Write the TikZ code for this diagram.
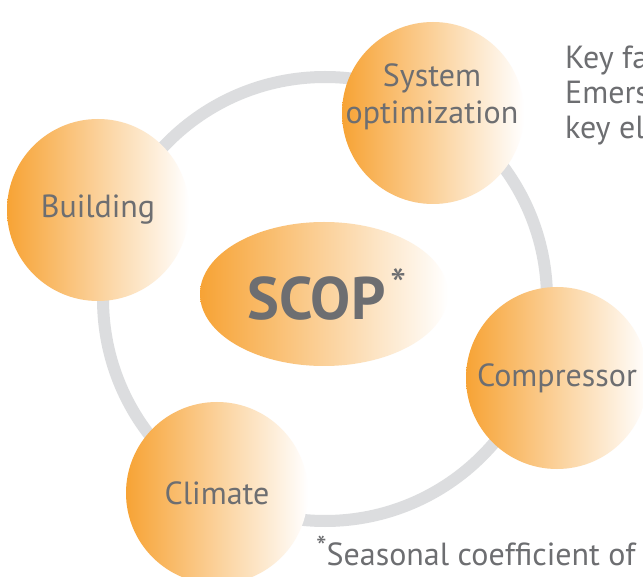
\documentclass[tikz,border=0pt]{standalone}
\usepackage{fontspec}
\setmainfont{PT Sans}
\definecolor{txtgrey}{HTML}{6D6E71}
\definecolor{ringgrey}{HTML}{DCDDDF}
\definecolor{orng}{HTML}{F7A335}
\tikzset{
  factor/.style={circle, minimum size=182pt, inner sep=0pt, left color=orng, right color=white,
    text=txtgrey, font=\fontsize{32}{37}\selectfont, align=center},
  scopbox/.style={ellipse, minimum width=248pt, minimum height=144pt, inner sep=0pt,
    left color=orng, right color=white, text=txtgrey},
  plain/.style={text=txtgrey, font=\fontsize{32}{35}\selectfont, inner sep=0pt}
}
\usetikzlibrary{shapes.geometric}
\begin{document}
\begin{tikzpicture}[x=1pt,y=-1pt]
\useasboundingbox (0,0) rectangle (643,577);
\clip (0,0) rectangle (643,577);
\fill[white] (0,0) rectangle (643,577);
\coordinate (c) at (325,299);
\draw[ringgrey, line width=12pt] (c) circle (222pt);
\node[factor] (sys) at (433,113) {};
\node[plain, align=center, font=\fontsize{32}{37}\selectfont] (systxt) at (432,97) {System\\optimization};
\node[factor] (bld) at (98,210) {Building};
\node[factor] (cmp) at (557,378) {\raisebox{-2pt}{Compressor}};
\node[factor] (clm) at (217,493) {Climate};
\node[scopbox] (scop) at (324,294) {\kern6pt\fontsize{60}{64}\selectfont\bfseries SCOP\kern5pt\raisebox{0.6ex}{\fontsize{46}{48}\selectfont\mdseries *}};
\node[plain, anchor=north west, align=left] (key) at (565,46) {Key fa\\Emers\\key el};
\node[plain, anchor=base west] (foot) at (316,565) {\raisebox{0.45ex}{\fontsize{30}{30}\selectfont *}Seasonal coefficient of};
\end{tikzpicture}
\end{document}
